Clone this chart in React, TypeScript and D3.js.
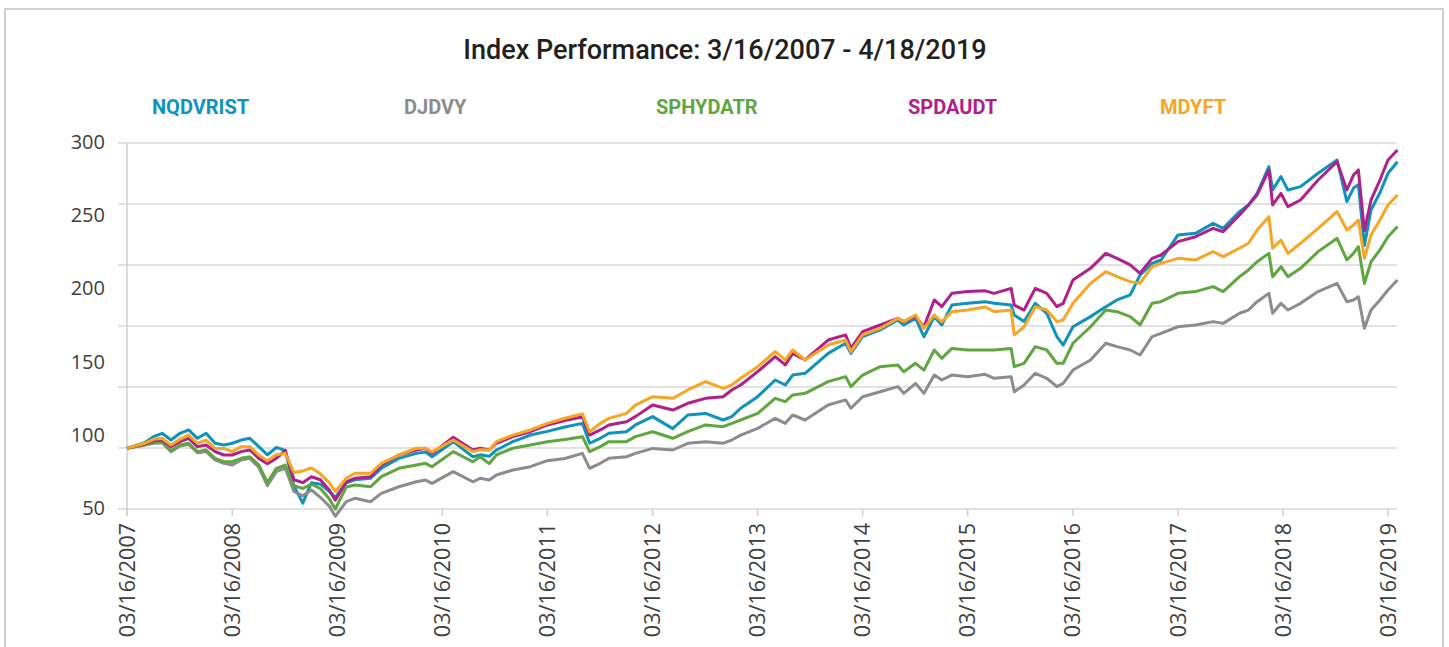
import * as d3 from "d3";

// sample dates shared by all five series
const dates = [
  "2007-03-16", "2007-05-16", "2007-06-16", "2007-07-16", "2007-08-16", "2007-09-16",
  "2007-10-16", "2007-11-16", "2007-12-16", "2008-01-16", "2008-02-16", "2008-03-16",
  "2008-04-16", "2008-05-16", "2008-06-16", "2008-07-16", "2008-08-16", "2008-09-16",
  "2008-10-16", "2008-11-16", "2008-12-16", "2009-01-16", "2009-02-16", "2009-03-09",
  "2009-04-16", "2009-05-16", "2009-07-10", "2009-08-16", "2009-10-16", "2009-12-16",
  "2010-01-16", "2010-02-08", "2010-04-23", "2010-06-30", "2010-07-26", "2010-08-26",
  "2010-09-20", "2010-11-16", "2011-01-16", "2011-03-16", "2011-05-16", "2011-07-16",
  "2011-08-10", "2011-09-16", "2011-10-16", "2011-12-16", "2012-01-16", "2012-03-16",
  "2012-05-25", "2012-07-16", "2012-09-16", "2012-11-16", "2012-12-16", "2013-01-16",
  "2013-03-16", "2013-05-16", "2013-06-20", "2013-07-16", "2013-08-28", "2013-11-16",
  "2014-01-16", "2014-02-03", "2014-03-16", "2014-05-16", "2014-07-16", "2014-08-06",
  "2014-09-16", "2014-10-15", "2014-11-20", "2014-12-16", "2015-01-20", "2015-03-16",
  "2015-05-16", "2015-06-16", "2015-08-14", "2015-08-25", "2015-09-28", "2015-11-06",
  "2015-12-16", "2016-01-20", "2016-02-11", "2016-03-16", "2016-05-16", "2016-07-08",
  "2016-08-16", "2016-10-01", "2016-11-04", "2016-12-16", "2017-01-16", "2017-03-16",
  "2017-05-16", "2017-07-16", "2017-08-20", "2017-10-16", "2017-11-16", "2017-12-16",
  "2018-01-26", "2018-02-08", "2018-03-09", "2018-04-02", "2018-05-16", "2018-07-16",
  "2018-09-20", "2018-10-24", "2018-11-16", "2018-12-03", "2018-12-24", "2019-01-16",
  "2019-02-16", "2019-03-16", "2019-04-18",
];

const nqdvrist = [
  91.4, 95.3, 99.4, 101.7, 97.1, 101.7, 104.0, 98.3, 101.7, 94.9, 93.7, 94.9,
  97.1, 98.3, 92.6, 87.0, 92.0, 90.0, 66.0, 54.0, 68.0, 67.0, 62.0, 58.0,
  67.8, 70.0, 71.0, 77.8, 84.6, 88.0, 89.0, 85.7, 96.0, 85.7, 87.0, 86.0,
  90.3, 96.0, 100.5, 103.0, 106.0, 108.5, 94.9, 98.3, 101.7, 102.8, 107.4, 113.1,
  104.9, 114.2, 115.3, 110.8, 113.1, 118.8, 126.7, 138.1, 134.7, 141.5, 142.7, 156.3,
  163.2, 156.3, 167.7, 172.3, 179.1, 175.7, 180.2, 167.7, 181.4, 175.7, 189.3, 190.5,
  191.6, 190.5, 189.3, 182.5, 178.0, 190.5, 183.6, 167.7, 162.0, 174.5, 181.4, 188.2,
  192.8, 196.2, 209.8, 217.8, 220.1, 237.2, 238.3, 245.1, 241.7, 253.1, 257.7, 265.6,
  283.8, 268.0, 277.0, 267.9, 270.2, 279.3, 288.4, 260.0, 269.2, 271.5, 230.0, 254.2,
  266.0, 279.3, 287.2,
];

const djdvy = [
  91.4, 93.7, 94.9, 95.3, 89.2, 93.0, 94.2, 88.5, 89.2, 83.5, 81.2, 80.1,
  83.5, 84.6, 78.5, 66.0, 75.5, 78.0, 62.0, 59.0, 63.0, 58.0, 52.0, 45.0,
  55.0, 57.3, 55.0, 60.7, 65.2, 68.6, 69.8, 67.5, 75.5, 68.6, 71.0, 69.8,
  73.2, 76.6, 78.9, 83.0, 84.5, 88.0, 77.8, 81.2, 84.6, 85.7, 88.0, 91.4,
  90.3, 94.9, 96.0, 94.9, 97.1, 100.5, 105.1, 111.9, 108.5, 114.2, 110.8, 121.0,
  124.5, 118.8, 126.7, 130.1, 133.6, 129.0, 135.8, 129.0, 141.5, 138.1, 141.5, 140.4,
  142.0, 139.3, 140.4, 130.1, 134.7, 142.7, 139.3, 133.6, 135.8, 144.9, 151.8, 163.2,
  160.9, 158.6, 155.2, 167.7, 170.0, 174.5, 175.7, 178.0, 176.8, 183.7, 185.9, 191.6,
  197.3, 183.7, 190.5, 185.9, 190.5, 198.5, 204.1, 191.6, 192.8, 195.0, 173.4, 185.9,
  192.8, 199.6, 206.4,
];

const sphydatr = [
  91.4, 93.7, 95.3, 96.0, 89.8, 93.7, 94.9, 89.2, 90.3, 84.6, 82.3, 82.3,
  84.6, 85.7, 80.1, 68.0, 77.8, 80.0, 66.0, 64.0, 67.0, 64.0, 57.0, 50.0,
  65.0, 66.4, 65.2, 72.1, 77.8, 80.0, 81.2, 78.9, 89.2, 82.3, 85.7, 81.0,
  86.9, 91.5, 93.7, 96.0, 97.5, 99.4, 89.2, 92.6, 96.0, 96.0, 99.4, 102.8,
  98.3, 102.8, 107.4, 106.2, 108.5, 110.8, 115.3, 125.6, 123.3, 127.9, 129.0, 137.0,
  140.4, 133.6, 141.5, 147.2, 148.4, 143.8, 149.5, 144.9, 158.6, 152.9, 159.7, 158.6,
  158.6, 158.6, 159.7, 147.2, 149.5, 160.9, 158.6, 149.5, 149.5, 163.2, 174.5, 185.9,
  184.8, 181.4, 175.7, 190.5, 191.6, 197.3, 198.5, 201.9, 198.5, 208.7, 213.3, 218.9,
  224.6, 208.7, 215.5, 208.7, 214.4, 225.8, 234.9, 220.1, 224.6, 229.2, 204.0, 218.9,
  227.0, 236.0, 242.9,
];

const spdaudt = [
  91.4, 94.4, 96.7, 97.1, 92.6, 96.0, 98.3, 92.6, 93.7, 89.2, 86.9, 86.9,
  89.2, 90.3, 84.6, 81.0, 84.6, 90.0, 70.0, 68.0, 72.0, 70.0, 63.0, 56.0,
  68.6, 71.0, 72.1, 80.0, 86.9, 90.3, 91.5, 88.0, 99.0, 90.3, 91.5, 90.3,
  94.9, 99.4, 102.8, 107.4, 110.5, 113.0, 100.5, 104.0, 107.4, 109.6, 113.1, 121.0,
  117.6, 122.2, 125.6, 126.7, 131.3, 134.7, 143.8, 154.1, 148.4, 156.3, 151.8, 165.4,
  168.9, 159.7, 171.1, 175.7, 180.2, 178.0, 181.4, 174.5, 192.8, 188.2, 197.3, 198.5,
  199.0, 197.3, 200.7, 189.3, 185.9, 200.7, 197.3, 188.2, 190.5, 206.4, 214.4, 224.6,
  221.2, 216.7, 211.0, 221.2, 223.5, 232.6, 236.0, 241.7, 239.4, 250.8, 257.7, 264.5,
  281.6, 257.7, 265.6, 256.5, 261.1, 274.7, 287.2, 267.9, 278.1, 281.6, 240.0, 261.1,
  274.7, 288.4, 295.2,
];

const mdyft = [
  91.4, 94.9, 97.6, 98.3, 93.7, 97.6, 100.5, 94.9, 97.1, 91.4, 91.4, 89.2,
  92.6, 92.6, 86.9, 83.0, 87.0, 88.0, 75.0, 76.0, 78.0, 74.0, 68.0, 62.0,
  71.0, 74.4, 74.4, 81.2, 86.9, 91.5, 91.5, 89.0, 97.1, 89.2, 90.5, 90.3,
  96.0, 100.5, 104.0, 108.5, 112.0, 115.0, 102.8, 108.5, 111.9, 115.3, 121.0, 126.7,
  125.6, 131.3, 137.0, 132.4, 134.7, 139.3, 147.2, 157.5, 151.8, 158.6, 151.8, 162.0,
  165.4, 157.5, 168.9, 173.4, 180.2, 178.0, 182.5, 173.4, 182.5, 178.0, 184.8, 185.9,
  188.0, 184.8, 185.9, 168.9, 174.5, 188.2, 185.9, 178.0, 179.1, 190.5, 204.1, 212.1,
  208.7, 205.3, 204.1, 215.5, 217.8, 221.2, 220.1, 225.8, 222.4, 228.1, 231.5, 240.6,
  249.7, 228.1, 233.7, 224.6, 231.5, 241.7, 253.1, 240.6, 244.0, 247.4, 221.2, 237.2,
  247.4, 257.7, 264.5,
];

const seriesNames = ["NQDVRIST", "DJDVY", "SPHYDATR", "SPDAUDT", "MDYFT"];
const seriesValues = [nqdvrist, djdvy, sphydatr, spdaudt, mdyft];
const seriesColors = ["#0e93bd", "#8c8c8e", "#5fa63f", "#b0208b", "#f6a623"];

const yTickLabels = [50, 100, 150, 200, 250, 300];
const xTickDates = [
  "2007-03-16", "2008-03-16", "2009-03-16", "2010-03-16", "2011-03-16", "2012-03-16",
  "2013-03-16", "2014-03-16", "2015-03-16", "2016-03-16", "2017-03-16", "2018-03-16",
  "2019-03-16",
];
const gridDivisions = 6;

const title = "Index Performance: 3/16/2007 - 4/18/2019";

export default function App() {
  const width = 1449;
  const height = 647;
  const margin = { top: 143, right: 52, bottom: 138, left: 127 };
  const plotBottom = height - margin.bottom;

  const parse = d3.timeParse("%Y-%m-%d");
  const fmt = d3.timeFormat("%m/%d/%Y");
  const xDates = dates.map((d) => parse(d) as Date);
  const ticks = xTickDates.map((d) => parse(d) as Date);

  const x = d3
    .scaleTime()
    .domain([ticks[0], ticks[ticks.length - 1]])
    .range([margin.left, 1388]);
  const y = d3
    .scaleLinear()
    .domain([d3.min(yTickLabels)!, d3.max(yTickLabels)!])
    .range([plotBottom, margin.top]);

  const xEnd = width - margin.right;
  // the gridlines don't sit on the labels in the original, they split the range in 6
  const gridValues = d3
    .range(gridDivisions + 1)
    .map((i) => y.domain()[0] + (i * (y.domain()[1] - y.domain()[0])) / gridDivisions);

  const line = d3
    .line<number>()
    .x((_, i) => x(xDates[i]))
    .y((v) => y(v));

  const tickFont = "'Open Sans', 'DejaVu Sans', sans-serif";

  return (
    <svg
      width={width}
      height={height}
      style={{ position: "absolute", left: 0, top: 0, background: "#fff" }}
    >
      {/* frame */}
      <rect x={5} y={9} width={1438} height={height + 20} fill="none" stroke="#d0d0d0" strokeWidth={2} />

      <text
        x={725}
        y={59}
        textAnchor="middle"
        fontFamily="Roboto, 'Open Sans', sans-serif"
        fontWeight={500}
        fontSize={27}
        fill="#231f20"
      >
        {title}
      </text>

      {/* legend */}
      {seriesNames.map((name, i) => (
        <text
          key={name}
          x={152 + i * 252}
          y={114}
          fontFamily="Roboto, 'Open Sans', sans-serif"
          fontWeight="bold"
          fontSize={20}
          fill={seriesColors[i]}
        >
          {name}
        </text>
      ))}

      {/* gridlines */}
      {gridValues.map((v, i) => (
        <line
          key={i}
          x1={margin.left - 9}
          x2={xEnd}
          y1={y(v)}
          y2={y(v)}
          stroke="#d9d9d9"
          strokeWidth={1.5}
        />
      ))}

      {/* y axis */}
      <line x1={margin.left} x2={margin.left} y1={margin.top} y2={plotBottom + 7} stroke="#d0d0d0" strokeWidth={1.5} />
      {yTickLabels.map((v) => (
        <text
          key={v}
          x={105}
          y={y(v)}
          dy="0.3em"
          textAnchor="end"
          fontFamily={tickFont}
          fontSize={20}
          fill="#404040"
        >
          {v}
        </text>
      ))}

      {/* x axis ticks and labels */}
      {ticks.map((t, i) => (
        <g key={i} transform={`translate(${x(t)},0)`}>
          <line y1={plotBottom} y2={plotBottom + 7} stroke="#d0d0d0" strokeWidth={1.5} />
          <text
            transform={`translate(0,${plotBottom + 14}) rotate(-90)`}
            dy="0.35em"
            textAnchor="end"
            fontFamily={tickFont}
            fontSize={21.5}
            fill="#404040"
          >
            {fmt(t)}
          </text>
        </g>
      ))}

      {/* series */}
      {seriesValues.map((vals, i) => (
        <path
          key={seriesNames[i]}
          d={line(vals) || ""}
          fill="none"
          stroke={seriesColors[i]}
          strokeWidth={3}
          strokeLinejoin="round"
        />
      ))}
    </svg>
  );
}
